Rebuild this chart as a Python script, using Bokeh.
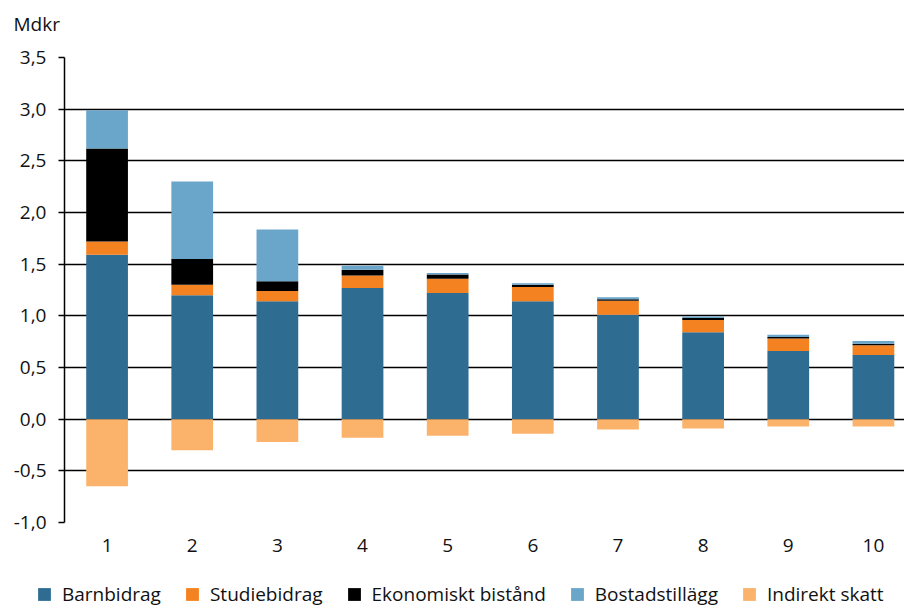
from bokeh.plotting import figure
from bokeh.layouts import column
from bokeh.models import (ColumnDataSource, FixedTicker, CustomJSTickFormatter,
                          Legend, LegendItem, Range1d)
from bokeh.core.properties import value
from bokeh.embed import file_html
from bokeh.resources import INLINE

# ---- data ----
deciles = [1, 2, 3, 4, 5, 6, 7, 8, 9, 10]
tick_labels = ["1", "2", "3", "4", "5", "6", "7", "8", "9", "10"]
barnbidrag = [1.59, 1.20, 1.14, 1.27, 1.22, 1.14, 1.01, 0.84, 0.66, 0.62]
studiebidrag = [0.13, 0.10, 0.10, 0.12, 0.14, 0.14, 0.135, 0.12, 0.12, 0.095]
ekonomiskt_bistand = [0.90, 0.25, 0.095, 0.055, 0.04, 0.02, 0.015, 0.02, 0.016, 0.016]
bostadstillagg = [0.37, 0.75, 0.50, 0.04, 0.015, 0.015, 0.02, 0.013, 0.02, 0.025]
indirekt_skatt = [-0.65, -0.30, -0.22, -0.18, -0.16, -0.14, -0.10, -0.09, -0.07, -0.07]

series_names = ["Barnbidrag", "Studiebidrag", "Ekonomiskt bistånd", "Bostadstillägg", "Indirekt skatt"]
unit_label = "Mdkr"
colors = ["#2E6C92", "#F58220", "#000000", "#6AA5CA", "#FBB36B"]
y_ticks = [-1.0, -0.5, 0.0, 0.5, 1.0, 1.5, 2.0, 2.5, 3.0, 3.5]

FONT = "Open Sans"
FS = "19px"

source = ColumnDataSource(dict(
    x=deciles,
    b=barnbidrag,
    s=studiebidrag,
    e=ekonomiskt_bistand,
    bo=bostadstillagg,
    neg=indirekt_skatt,
))


def strip(h, xr, yr):
    f = figure(width=904, height=h, output_backend="svg", toolbar_location=None,
               x_axis_location=None, y_axis_location=None,
               x_range=xr, y_range=yr,
               min_border_left=0, min_border_right=0, min_border_top=0, min_border_bottom=0)
    f.outline_line_color = None
    f.grid.grid_line_color = None
    f.border_fill_color = "white"
    f.background_fill_color = "white"
    f.frame_align = False
    return f


# ---- top strip with unit label ----
tf = strip(40, Range1d(0, 904), Range1d(0, 40))
tf.text(x=[13], y=[17], text=[unit_label], text_font=value(FONT), text_font_size=FS,
        text_color="#111111", text_align="left", text_baseline="middle")

# ---- main chart ----
p = figure(width=904, height=529, output_backend="svg", toolbar_location=None,
           x_range=Range1d(0.5, 10.365), y_range=Range1d(-1.0, 3.5),
           min_border_left=64, min_border_right=0, min_border_top=17, min_border_bottom=47)
p.outline_line_color = None
p.background_fill_color = "white"
p.border_fill_color = "white"
p.frame_align = False

stack = p.vbar_stack(["b", "s", "e", "bo"], x="x", width=0.49, source=source,
                     color=colors[:4], line_color=None)
negr = p.vbar(x="x", top="neg", bottom=0, width=0.49, source=source,
              color=colors[4], line_color=None)

p.xaxis.ticker = FixedTicker(ticks=deciles)
p.xaxis.major_label_overrides = {d: t for d, t in zip(deciles, tick_labels)}
p.xaxis.axis_line_color = None
p.xaxis.major_tick_line_color = None
p.xaxis.minor_tick_line_color = None
p.xaxis.major_tick_out = 0
p.xaxis.major_label_standoff = 16
p.xaxis.major_label_text_font = FONT
p.xaxis.major_label_text_font_size = FS
p.xaxis.major_label_text_color = "#111111"

p.yaxis.ticker = FixedTicker(ticks=y_ticks)
p.yaxis.formatter = CustomJSTickFormatter(code="return tick.toFixed(1).replace('.', ',');")
p.yaxis.axis_line_color = "black"
p.yaxis.axis_line_width = 1.5
p.yaxis.major_tick_line_color = "black"
p.yaxis.major_tick_line_width = 1.5
p.yaxis.major_tick_out = 6
p.yaxis.major_tick_in = 0
p.yaxis.minor_tick_line_color = None
p.yaxis.major_label_standoff = 12
p.yaxis.major_label_text_font = FONT
p.yaxis.major_label_text_font_size = FS
p.yaxis.major_label_text_color = "#111111"

p.xgrid.grid_line_color = None
p.ygrid.ticker = FixedTicker(ticks=y_ticks)
p.ygrid.grid_line_color = "black"
p.ygrid.grid_line_width = 1.4

# ---- legend strip (renderers share the data but lie outside this strip's ranges) ----
lf = strip(40, Range1d(100, 101), Range1d(100, 101))
lstack = lf.vbar_stack(["b", "s", "e", "bo"], x="x", width=0.49, source=source,
                       color=colors[:4], line_color=None)
lneg = lf.vbar(x="x", top="neg", bottom=0, width=0.49, source=source,
               color=colors[4], line_color=None)
lrends = list(lstack) + [lneg]
items = [LegendItem(label=series_names[i], renderers=[lrends[i]]) for i in range(5)]
legend = Legend(items=items, orientation="horizontal", location=(36, 2),
                glyph_width=16, glyph_height=16, label_standoff=10, spacing=23,
                padding=0, margin=0, border_line_color=None, background_fill_alpha=0,
                label_text_font=FONT, label_text_font_size=FS, label_text_color="#111111",
                label_height=16)
lf.add_layout(legend, "center")

layout = column(tf, p, lf, spacing=0)
open("out.html", "w").write(file_html(layout, INLINE))
